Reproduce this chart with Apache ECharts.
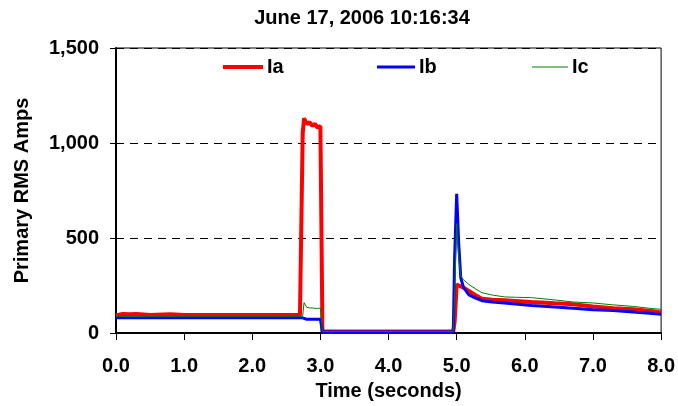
<!DOCTYPE html>
<html>
<head>
<meta charset="utf-8">
<script src="https://cdn.jsdelivr.net/npm/echarts@6/dist/echarts.min.js"></script>
<style>html,body{margin:0;padding:0;background:#fff}#c{width:678px;height:406px}</style>
</head>
<body>
<div id="c"></div>
<script>
var times = [0, 0.1, 0.2, 0.3, 0.4, 0.5, 0.8, 1.0, 2.0, 2.7, 2.74, 2.76, 2.8, 2.84, 2.88, 2.92, 2.96, 3.0, 3.03, 4.0, 4.95, 4.97, 5.0, 5.03, 5.06, 5.1, 5.18, 5.27, 5.37, 5.52, 5.7, 5.86, 6.1, 6.44, 6.71, 7.0, 7.3, 7.59, 7.88, 8.0];
var ia = [92, 100, 99, 100, 98, 95, 99, 95, 95, 96, 1050, 1130, 1100, 1110, 1090, 1100, 1080, 1090, 8, 8, 8, 60, 255, 250, 245, 238, 221, 200, 180, 175, 172, 169, 163, 156, 151, 139, 130, 125, 115, 108];
var ib = [80, 80, 80, 80, 80, 80, 80, 80, 80, 80, 80, 80, 72, 72, 72, 72, 72, 72, 5, 5, 5, 400, 733, 470, 290, 240, 200, 185, 170, 163, 158, 152, 145, 137, 130, 122, 118, 110, 102, 98];
var ic = [88, 88, 88, 88, 88, 88, 88, 88, 88, 88, 90, 160, 135, 132, 132, 130, 130, 130, 8, 8, 8, 200, 576, 400, 300, 280, 255, 234, 212, 200, 190, 188, 186, 174, 163, 158, 148, 140, 128, 125];
var seriesNames = ['Ia', 'Ib', 'Ic'];
var yTicks = [0, 500, 1000, 1500];
var xTicks = [0, 1, 2, 3, 4, 5, 6, 7, 8];

function pairs(vals) { return times.map(function (t, i) { return [t, vals[i]]; }); }
var FONT = 'Liberation Sans, Arial, sans-serif';
var colors = ['#ff0000', '#0000ff', '#008000'];
var widths = [4, 3, 1];
var legendLeft = [223, 377, 532];
var iconW = [40, 38, 36];

var chart = echarts.init(document.getElementById('c'), null, {renderer: 'canvas'});
chart.setOption({
  animation: false,
  backgroundColor: '#fff',
  title: {
    text: 'June 17, 2006 10:16:34',
    left: 362, top: 8, textAlign: 'center', padding: 0,
    textStyle: {fontFamily: FONT, fontWeight: 'bold', fontSize: 20, color: '#000'}
  },
  legend: seriesNames.map(function (n, i) {
    return {
      data: [n], left: legendLeft[i], top: 57, icon: 'rect', padding: 0,
      itemWidth: iconW[i], itemHeight: widths[i], itemGap: 4,
      textStyle: {fontFamily: FONT, fontWeight: 'bold', fontSize: 20, color: '#000', padding: [0, 0, 0, -1]}
    };
  }),
  grid: {left: 116, right: 15, top: 48, bottom: 70, show: true, borderColor: '#000', borderWidth: 1},
  xAxis: {
    type: 'value', min: xTicks[0], max: xTicks[xTicks.length - 1], interval: 1,
    name: 'Time (seconds)', nameLocation: 'middle', nameGap: 48,
    nameTextStyle: {fontFamily: FONT, fontWeight: 'bold', fontSize: 20, color: '#000'},
    axisLine: {lineStyle: {color: '#000', width: 2}},
    axisTick: {length: 7, lineStyle: {color: '#000', width: 1}},
    axisLabel: {formatter: function (v) { return v.toFixed(1); }, margin: 23,
      fontFamily: FONT, fontWeight: 'bold', fontSize: 20, color: '#000'},
    splitLine: {show: false}
  },
  yAxis: [{
    type: 'value', min: yTicks[0], max: yTicks[yTicks.length - 1], interval: 500,
    name: 'Primary RMS Amps', nameLocation: 'middle', nameGap: 84,
    nameTextStyle: {fontFamily: FONT, fontWeight: 'bold', fontSize: 20, color: '#000'},
    axisLine: {show: true, lineStyle: {color: '#000', width: 2}},
    axisTick: {show: true, length: 6, lineStyle: {color: '#000', width: 1}},
    axisLabel: {formatter: function (v) { return v.toLocaleString('en-US'); }, margin: 17,
      fontFamily: FONT, fontWeight: 'bold', fontSize: 20, color: '#000'},
    splitLine: {show: true, lineStyle: {color: '#000', type: [8, 6], width: 1}}
  }, {
    type: 'value', min: yTicks[0], max: yTicks[yTicks.length - 1], interval: 500, position: 'left',
    axisLine: {show: false}, axisTick: {show: true, inside: true, length: 6, lineStyle: {color: '#000'}},
    axisLabel: {show: false}, splitLine: {show: false}
  }],
  series: [ia, ib, ic].map(function (vals, i) {
    return {
      name: seriesNames[i], type: 'line', data: pairs(vals), showSymbol: false,
      color: colors[i], lineStyle: {color: colors[i], width: widths[i]}, z: 2 + i
    };
  })
});
</script>
</body>
</html>
